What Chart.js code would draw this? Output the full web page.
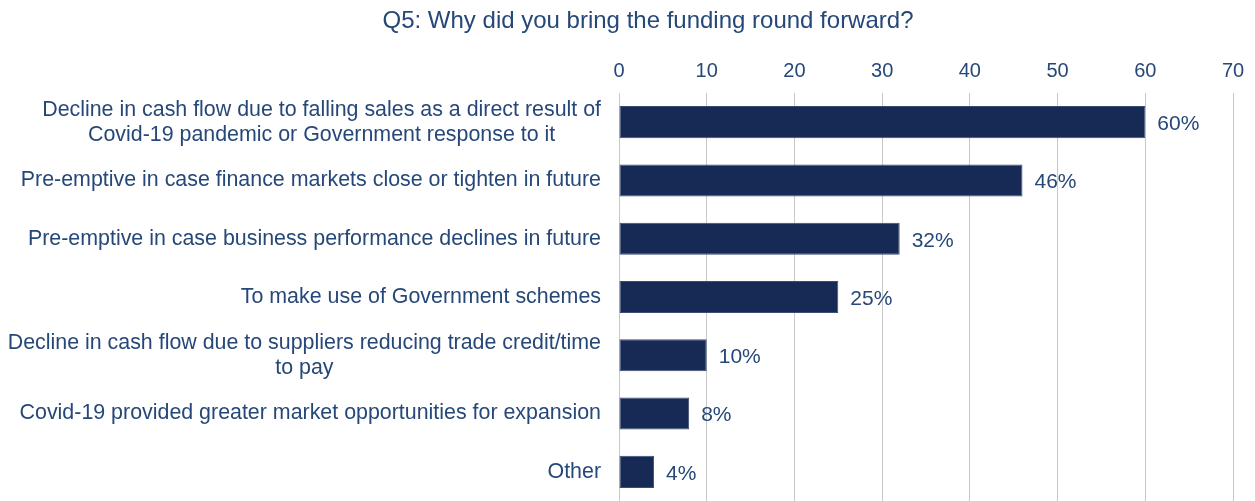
<!DOCTYPE html>
<html>
<head>
<meta charset="utf-8">
<script src="https://cdn.jsdelivr.net/npm/chart.js@4/dist/chart.umd.min.js"></script>
<style>
  html, body { margin: 0; padding: 0; background: #fff; }
  #wrap { width: 1255px; height: 501px; }
</style>
</head>
<body>
<div id="wrap"><canvas id="myChart"></canvas></div>
<script>
const chartTitle = 'Q5: Why did you bring the funding round forward?';

const reasons = [
    ['Decline in cash flow due to falling sales as a direct result of', 'Covid-19 pandemic or Government response to it'],
    ['Pre-emptive in case finance markets close or tighten in future'],
    ['Pre-emptive in case business performance declines in future'],
    ['To make use of Government schemes'],
    ['Decline in cash flow due to suppliers reducing trade credit/time', 'to pay'],
    ['Covid-19 provided greater market opportunities for expansion'],
    ['Other']
];
const percentages = [60, 46, 32, 25, 10, 8, 4];
const axisTicks = [0, 10, 20, 30, 40, 50, 60, 70];

const textColor = '#264879';
const barColor = '#172a56';
const fontFamily = '"Liberation Sans", Arial, sans-serif';

// category labels: block right aligned next to the axis, lines centred within it
const categoryLabels = {
    id: 'categoryLabels',
    afterDraw(chart) {
        const ctx = chart.ctx;
        const yScale = chart.scales.y;
        const right = chart.chartArea.left - 18;
        ctx.save();
        ctx.font = '21.4px ' + fontFamily;
        ctx.fillStyle = textColor;
        ctx.textAlign = 'center';
        ctx.textBaseline = 'middle';
        const lineH = 25;
        reasons.forEach((lines, i) => {
            const maxW = Math.max(...lines.map(l => ctx.measureText(l).width));
            const cx = right - maxW / 2;
            const cy = yScale.getPixelForValue(i);
            const top = cy - (lines.length - 1) * lineH / 2;
            lines.forEach((l, j) => ctx.fillText(l, cx, top + j * lineH));
        });
        ctx.restore();
    }
};

// percentage labels just past the end of each bar, plus the title
const valueLabels = {
    id: 'valueLabels',
    afterDraw(chart) {
        const ctx = chart.ctx;
        const meta = chart.getDatasetMeta(0);
        ctx.save();
        ctx.font = '21px ' + fontFamily;
        ctx.fillStyle = textColor;
        ctx.textAlign = 'left';
        ctx.textBaseline = 'middle';
        meta.data.forEach((bar, i) => {
            ctx.fillText(percentages[i] + '%', bar.x + 12, bar.y + 2);
        });
        ctx.font = '24px ' + fontFamily;
        ctx.textAlign = 'center';
        ctx.fillText(chartTitle, 648, 21);
        ctx.restore();
    }
};

const ctx = document.getElementById('myChart').getContext('2d');

new Chart(ctx, {
    type: 'bar',
    data: {
        labels: reasons.map(r => r.join(' ')),
        datasets: [{
            data: percentages,
            backgroundColor: barColor,
            borderColor: '#3b4d75',
            borderWidth: 1,
            borderSkipped: false,
            categoryPercentage: 1,
            barPercentage: 0.55
        }]
    },
    options: {
        indexAxis: 'y',
        responsive: true,
        maintainAspectRatio: false,
        animation: false,
        layout: {
            padding: { left: 0, right: 22, top: 33, bottom: 0 }
        },
        scales: {
            x: {
                position: 'top',
                min: 0,
                max: 70,
                afterBuildTicks: (scale) => {
                    scale.ticks = axisTicks.map(v => ({ value: v }));
                },
                afterFit: (scale) => { scale.height = 60; },
                grid: {
                    color: '#c8c8c8',
                    lineWidth: 1,
                    drawTicks: false
                },
                border: { display: false },
                ticks: {
                    color: textColor,
                    font: { family: fontFamily, size: 20 },
                    padding: 10
                }
            },
            y: {
                afterFit: (scale) => { scale.width = 619; },
                grid: { display: false },
                border: { display: false },
                ticks: { display: false }
            }
        },
        plugins: {
            legend: { display: false },
            tooltip: { enabled: false },
            title: { display: false }
        }
    },
    plugins: [categoryLabels, valueLabels]
});
</script>
</body>
</html>
